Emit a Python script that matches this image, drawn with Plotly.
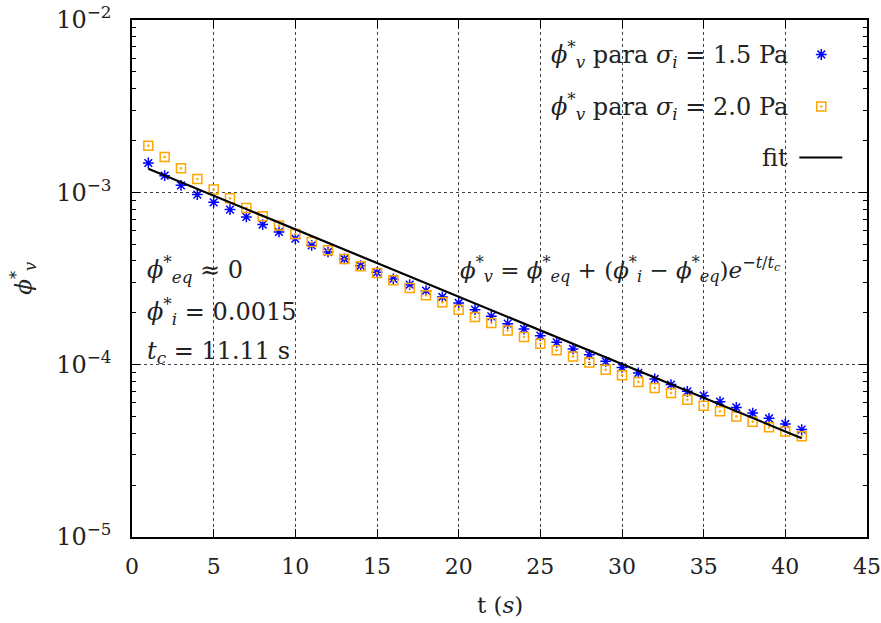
import plotly.graph_objects as go

# ---- data ----
t = list(range(1, 42))
phi_15 = [1.48e-3, 1.25e-3, 1.098e-3, 0.970e-3, 0.875e-3, 0.794e-3, 0.720e-3, 0.650e-3,
          0.589e-3, 0.539e-3, 0.4925e-3, 0.451e-3, 0.4107e-3, 0.3755e-3, 0.3433e-3,
          0.3143e-3, 0.2912e-3, 0.2689e-3, 0.2471e-3, 0.2281e-3, 0.2086e-3, 0.1907e-3,
          0.1730e-3, 0.1611e-3, 0.1474e-3, 0.1347e-3, 0.1234e-3, 0.1143e-3, 0.1045e-3,
          0.0964e-3, 0.0895e-3, 0.0826e-3, 0.0766e-3, 0.0700e-3, 0.0661e-3, 0.0610e-3,
          0.0565e-3, 0.0524e-3, 0.0488e-3, 0.0453e-3, 0.0420e-3]
phi_20 = [1.866e-3, 1.605e-3, 1.378e-3, 1.196e-3, 1.037e-3, 0.923e-3, 0.812e-3, 0.726e-3,
          0.643e-3, 0.5735e-3, 0.5154e-3, 0.4618e-3, 0.4107e-3, 0.3720e-3, 0.3404e-3,
          0.3085e-3, 0.2788e-3, 0.2524e-3, 0.2299e-3, 0.2086e-3, 0.1891e-3, 0.1746e-3,
          0.1581e-3, 0.1448e-3, 0.1324e-3, 0.1211e-3, 0.1117e-3, 0.1031e-3, 0.0935e-3,
          0.0867e-3, 0.0794e-3, 0.0733e-3, 0.0685e-3, 0.0626e-3, 0.0578e-3, 0.0536e-3,
          0.0501e-3, 0.0467e-3, 0.0433e-3, 0.0410e-3, 0.0384e-3]
fit_t = [1, 41]
fit_v = [1.371e-3, 3.745e-5]

x_ticks = [0, 5, 10, 15, 20, 25, 30, 35, 40, 45]
y_ticks = [1e-5, 1e-4, 1e-3, 1e-2]
y_ticktext = ["10<sup>−5</sup>", "10<sup>−4</sup>", "10<sup>−3</sup>", "10<sup>−2</sup>"]
y_minor = [m * 10.0 ** e for e in (-5, -4, -3) for m in range(2, 10)]

PHI = "<i>ϕ</i>"
legend_labels = [PHI + "<sup>*</sup><sub><i>v</i></sub> para <i>σ</i><sub><i>i</i></sub> = 1.5 Pa",
                 PHI + "<sup>*</sup><sub><i>v</i></sub> para <i>σ</i><sub><i>i</i></sub> = 2.0 Pa",
                 "fit"]

FONT = "DejaVu Serif"
BLUE = "#0000ff"
ORANGE = "#ffa500"
TXT = "#222222"

fig = go.Figure()
fig.add_trace(go.Scatter(x=t, y=phi_15, mode="markers", name=legend_labels[0],
                         marker=dict(symbol="asterisk-open", size=9, color=BLUE,
                                     line=dict(color=BLUE, width=1.5))))
fig.add_trace(go.Scatter(x=t, y=phi_20, mode="markers", name=legend_labels[1],
                         marker=dict(symbol="square-open-dot", size=9, color=ORANGE,
                                     line=dict(color=ORANGE, width=1.5))))
fig.add_trace(go.Scatter(x=fit_t, y=fit_v, mode="lines", name=legend_labels[2],
                         line=dict(color="black", width=2.2)))

# manual gnuplot-style key: text on the left, sample on the right
key_y = [0.9333, 0.8327, 0.7340]
fig.add_trace(go.Scatter(x=[0.9378], y=[key_y[0]], xaxis="x2", yaxis="y2", mode="markers",
                         showlegend=False, hoverinfo="skip",
                         marker=dict(symbol="asterisk-open", size=9, color=BLUE,
                                     line=dict(color=BLUE, width=1.5))))
fig.add_trace(go.Scatter(x=[0.9378], y=[key_y[1]], xaxis="x2", yaxis="y2", mode="markers",
                         showlegend=False, hoverinfo="skip",
                         marker=dict(symbol="square-open-dot", size=9, color=ORANGE,
                                     line=dict(color=ORANGE, width=1.5))))
fig.add_trace(go.Scatter(x=[0.9079, 0.9664], y=[key_y[2], key_y[2]], xaxis="x2", yaxis="y2",
                         mode="lines", showlegend=False, hoverinfo="skip",
                         line=dict(color="black", width=2.2)))

annotations = []
for lbl, yy in zip(legend_labels, key_y):
    annotations.append(dict(text=lbl, x=0.8957, y=yy, xref="paper", yref="paper",
                            xanchor="right", yanchor="middle", showarrow=False,
                            font=dict(family=FONT, size=24, color=TXT)))

left_notes = [(PHI + "<sup>*</sup><sub><i>eq</i></sub> ≈ 0", 0.5174),
              (PHI + "<sup>*</sup><sub><i>i</i></sub> = 0.0015", 0.436),
              ("<i>t</i><sub><i>c</i></sub> = 11.11 s", 0.357)]
for txt, yy in left_notes:
    annotations.append(dict(text=txt, x=0.018, y=yy, xref="paper", yref="paper",
                            xanchor="left", yanchor="middle", showarrow=False,
                            font=dict(family=FONT, size=24, color=TXT)))

annotations.append(dict(
    text=PHI + "<sup>*</sup><sub><i>v</i></sub> = " + PHI + "<sup>*</sup><sub><i>eq</i></sub> + ("
         + PHI + "<sup>*</sup><sub><i>i</i></sub> − " + PHI + "<sup>*</sup><sub><i>eq</i></sub>)"
         "<i>e</i><sup>−<i>t</i>/<i>t<sub>c</sub></i></sup>",
    x=0.444, y=0.5174, xref="paper", yref="paper", xanchor="left", yanchor="middle",
    showarrow=False, font=dict(family=FONT, size=23, color=TXT)))

annotations.append(dict(text="t (<i>s</i>)", x=0.5, y=-0.131, xref="paper", yref="paper",
                        xanchor="center", yanchor="middle", showarrow=False,
                        font=dict(family=FONT, size=23, color=TXT)))
annotations.append(dict(text=PHI + "<sup>*</sup><sub><i>v</i></sub>", x=-0.148, y=0.5,
                        xref="paper", yref="paper", xanchor="center", yanchor="middle",
                        textangle=-90, showarrow=False,
                        font=dict(family=FONT, size=23, color=TXT)))

fig.update_layout(
    width=881, height=623,
    margin=dict(l=132, r=14, t=20, b=86),
    paper_bgcolor="white", plot_bgcolor="white",
    showlegend=False,
    font=dict(family=FONT, size=23, color=TXT),
    annotations=annotations,
    xaxis=dict(range=[0, 45], tickvals=x_ticks, ticks="inside", ticklen=8, tickwidth=1,
               tickcolor="black", mirror="allticks", showline=True, linecolor="black",
               linewidth=1.5, showgrid=True, gridcolor="#444", griddash="dot", gridwidth=1,
               zeroline=False, automargin=False, ticklabeloverflow="allow",
               ticklabelstandoff=9, tickfont=dict(family=FONT, size=22)),
    yaxis=dict(type="log", range=[-5, -2], tickvals=y_ticks, ticktext=y_ticktext,
               ticks="inside", ticklen=8, tickwidth=1, tickcolor="black", mirror="allticks",
               showline=True, linecolor="black", linewidth=1.5, showgrid=True,
               gridcolor="#444", griddash="dot", gridwidth=1, zeroline=False,
               automargin=False, tickfont=dict(family=FONT, size=24), ticklabelstandoff=14,
               minor=dict(tickvals=y_minor, ticks="inside", ticklen=4, tickcolor="black",
                          showgrid=False)),
    xaxis2=dict(range=[0, 1], overlaying="x", visible=False, fixedrange=True),
    yaxis2=dict(range=[0, 1], overlaying="y", visible=False, fixedrange=True),
)

fig.write_html("out.html")
